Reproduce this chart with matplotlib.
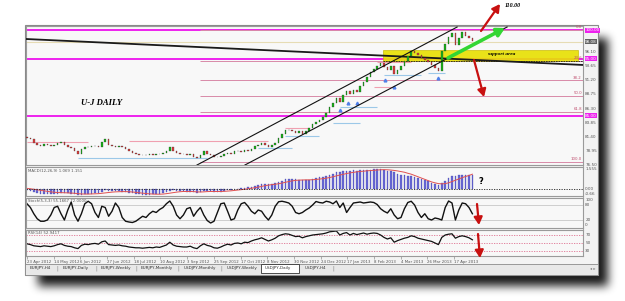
import numpy as np
import matplotlib
matplotlib.use("Agg")
import matplotlib.pyplot as plt
from matplotlib.patches import Rectangle

W, H = 625, 301

# closes, one value per two trading days (23 Apr 2012 -> end Apr 2013)
closes = [81.2, 80.9, 80.3, 80.0, 79.8, 80.1, 79.9, 79.7, 79.9, 80.2,
          80.5, 80.0, 79.6, 79.4, 78.9, 78.3, 79.2, 79.6, 79.5, 79.7,
          79.8, 79.6, 80.4, 80.9, 79.9, 79.8, 79.6, 79.7, 79.5, 79.3,
          78.9, 78.5, 78.3, 78.2, 78.1, 78.2, 78.3, 78.2, 78.4, 78.3,
          78.6, 78.9, 79.5, 78.9, 78.6, 78.4, 78.3, 78.2, 78.4, 77.9,
          77.6, 78.2, 78.8, 78.4, 78.2, 77.9, 77.8, 78.0, 78.3, 78.6,
          78.4, 78.8, 78.9, 78.7, 79.0, 78.8, 79.3, 79.7, 79.9, 80.3,
          80.0, 79.6, 79.9, 80.3, 81.2, 81.9, 82.5, 82.6, 82.4, 82.1,
          82.3, 81.9, 82.4, 82.9, 83.6, 84.0, 84.3, 84.8, 85.6, 86.6,
          87.2, 88.2, 87.5, 88.6, 89.4, 88.9, 89.6, 89.2, 90.3, 91.0,
          91.8, 92.6, 93.2, 93.8, 94.3, 93.5, 93.1, 93.8, 92.4, 93.0,
          93.8, 94.6, 95.4, 96.3, 96.0, 95.6, 95.1, 94.8, 94.4, 93.9,
          93.4, 92.8, 96.4, 97.6, 98.8, 99.5, 97.4, 98.6, 99.6, 99.0,
          98.6, 98.1]
first_open = 81.4

macd_main = [-0.05, -0.15, -0.25, -0.3, -0.35, -0.35, -0.38, -0.4, -0.38, -0.35,
             -0.3, -0.3, -0.32, -0.35, -0.42, -0.5, -0.45, -0.4, -0.38, -0.35,
             -0.32, -0.3, -0.2, -0.1, -0.12, -0.15, -0.16, -0.18, -0.2, -0.22,
             -0.28, -0.33, -0.38, -0.42, -0.45, -0.45, -0.44, -0.42, -0.4, -0.38,
             -0.33, -0.25, -0.12, -0.1, -0.12, -0.15, -0.18, -0.2, -0.2, -0.25,
             -0.3, -0.25, -0.15, -0.12, -0.15, -0.2, -0.22, -0.2, -0.15, -0.1,
             -0.08, -0.02, 0.02, 0.05, 0.1, 0.12, 0.18, 0.25, 0.32, 0.4,
             0.42, 0.4, 0.42, 0.45, 0.55, 0.65, 0.75, 0.8, 0.78, 0.75,
             0.72, 0.7, 0.7, 0.72, 0.78, 0.85, 0.9, 0.95, 1.02, 1.12,
             1.2, 1.3, 1.32, 1.38, 1.42, 1.42, 1.44, 1.42, 1.44, 1.45,
             1.48, 1.5, 1.52, 1.55, 1.55, 1.5, 1.42, 1.38, 1.3, 1.2,
             1.12, 1.05, 1.0, 0.98, 0.95, 0.88, 0.8, 0.7, 0.6, 0.5,
             0.4, 0.3, 0.45, 0.65, 0.85, 1.0, 1.02, 1.08, 1.12, 1.12,
             1.1, 1.07]

macd_signal = [0.05, 0.02, -0.02, -0.06, -0.1, -0.14, -0.18, -0.22, -0.25, -0.27,
               -0.28, -0.29, -0.3, -0.31, -0.33, -0.36, -0.38, -0.39, -0.39, -0.38,
               -0.37, -0.36, -0.33, -0.3, -0.27, -0.24, -0.22, -0.21, -0.2, -0.2,
               -0.21, -0.23, -0.26, -0.29, -0.32, -0.35, -0.37, -0.39, -0.4, -0.4,
               -0.39, -0.36, -0.32, -0.28, -0.24, -0.21, -0.19, -0.19, -0.19, -0.2,
               -0.22, -0.23, -0.22, -0.2, -0.19, -0.19, -0.19, -0.19, -0.18, -0.16,
               -0.14, -0.11, -0.08, -0.05, -0.02, 0.02, 0.06, 0.1, 0.15, 0.2,
               0.26, 0.3, 0.34, 0.37, 0.41, 0.46, 0.52, 0.58, 0.63, 0.67,
               0.69, 0.7, 0.71, 0.71, 0.72, 0.74, 0.77, 0.8, 0.84, 0.89,
               0.95, 1.02, 1.08, 1.14, 1.2, 1.25, 1.29, 1.33, 1.36, 1.38,
               1.41, 1.43, 1.45, 1.47, 1.49, 1.5, 1.49, 1.47, 1.44, 1.4,
               1.35, 1.3, 1.22, 1.15, 1.05, 0.95, 0.85, 0.75, 0.65, 0.55,
               0.48, 0.42, 0.4, 0.42, 0.48, 0.58, 0.68, 0.78, 0.88, 0.97,
               1.05, 1.15]

stoch_main = [85, 70, 45, 25, 15, 15, 20, 40, 70, 75,
              45, 20, 60, 92, 40, 15, 45, 85, 95, 85,
              50, 30, 75, 70, 35, 55, 88, 70, 30, 15,
              12, 10, 15, 25, 35, 30, 45, 55, 50, 62,
              70, 85, 96, 75, 40, 25, 40, 65, 70, 35,
              55, 70, 40, 18, 8, 15, 50, 85, 88, 55,
              20, 25, 60, 85, 90, 75, 55, 45, 60, 55,
              35, 20, 40, 75, 93, 95, 92, 88, 75, 50,
              45, 50, 60, 68, 80, 94, 90, 88, 95, 92,
              85, 96, 70, 88, 50, 70, 88, 90, 92, 88,
              90, 92, 90, 82, 65, 55, 48, 65, 40, 25,
              30, 65, 90, 95, 80, 50, 30, 45, 25, 20,
              28, 25, 20, 70, 96, 88, 20, 60, 88, 85,
              70, 45]

rsi_vals = [48, 46, 43, 42, 41, 43, 42, 41, 43, 46,
            48, 44, 42, 41, 38, 36, 44, 47, 46, 48,
            49, 47, 53, 55, 46, 45, 44, 45, 43, 42,
            40, 39, 38, 38, 37, 38, 39, 38, 40, 39,
            42, 45, 52, 45, 42, 41, 40, 40, 42, 38,
            36, 43, 48, 44, 42, 38, 37, 40, 44, 47,
            45, 49, 50, 48, 52, 51, 55, 58, 60, 63,
            59, 55, 58, 62, 68, 71, 73, 72, 69, 66,
            67, 63, 66, 68, 70, 71, 72, 73, 75, 78,
            79, 80, 70, 74, 76, 70, 74, 71, 73, 75,
            72, 74, 75, 74, 70, 64, 60, 63, 52, 56,
            59, 62, 64, 68, 66, 62, 60, 58, 56, 54,
            50, 46, 64, 70, 72, 73, 62, 66, 68, 66,
            63, 58]

date_labels = ["23 Apr 2012", "14 May 2012", "6 Jun 2012", "27 Jun 2012", "18 Jul 2012",
               "10 Aug 2012", "3 Sep 2012", "25 Sep 2012", "17 Oct 2012", "8 Nov 2012",
               "30 Nov 2012", "24 Dec 2012", "17 Jan 2013", "8 Feb 2013", "4 Mar 2013",
               "26 Mar 2013", "17 Apr 2013"]
tab_names = ["EURJPY,H4", "EURJPY,Daily", "EURJPY,Weekly", "EURJPY,Monthly",
             "USDJPY,Monthly", "USDJPY,Weekly", "USDJPY,Daily", "USDJPY,H4"]

magenta_levels = [100.0, 95.0, 85.0]
fib_pcts = [0.0, 23.6, 38.2, 50.0, 61.8, 100.0]
fib_hi, fib_lo, fib_start = 100.0, 76.96, 51
price_ticks = [76.50, 78.95, 81.40, 83.85, 86.30, 88.75, 91.20, 93.65, 96.10]
bid_price = 97.91
channel_upper = [(50.0, 76.44), (126.5, 100.52)]
channel_lower = [(64.1, 76.44), (141.2, 100.52)]
long_line = [(-0.3, 98.43), (163.5, 93.9)]
support_zone = (104.7, 162.0, 94.59, 96.51)
pink_stubs = [(0, 18, 80.5), (30, 71, 80.6), (76, 83, 82.9), (102, 108, 90.05), (103, 113, 94.4)]
blue_stubs = [(15, 53, 77.7), (68, 78, 79.4), (76, 86, 81.5), (90, 98, 83.8),
              (92, 103, 86.6), (105, 116, 92.1), (118, 123, 92.5)]
fractal_up = [(92, 86.6), (94.4, 87.8), (97, 87.8), (105.3, 91.8), (108, 90.6), (121, 92.1)]

X0, X1 = (26 - 27) / 3.4, (583 - 27) / 3.4
BG = "#f8f8f8"


def box(x0, y0, x1, y1):
    return [x0 / W, 1 - y1 / H, (x1 - x0) / W, (y1 - y0) / H]


def pane(y0, y1, ylim):
    ax = fig.add_axes(box(26, y0, 583, y1), zorder=1)
    ax.set_xlim(X0, X1)
    ax.set_ylim(*ylim)
    ax.set_facecolor(BG)
    ax.set_xticks([])
    ax.set_yticks([])
    for s in ax.spines.values():
        s.set_color("#9a9a9a")
        s.set_linewidth(0.8)
    return ax


def rlabel(ax, v, s, fc=None, tc="#555555"):
    kw = {}
    if fc:
        kw["bbox"] = dict(boxstyle="square,pad=0.12", fc=fc, ec="none")
    ax.text(1.004, v, s, transform=ax.get_yaxis_transform(), fontsize=3.0,
            color=tc, va="center", ha="left", clip_on=False, **kw)


def blur(a, r):
    k = np.ones(2 * r + 1) / (2 * r + 1)
    for _ in range(3):
        a = np.apply_along_axis(lambda m: np.convolve(m, k, mode="same"), 0, a)
        a = np.apply_along_axis(lambda m: np.convolve(m, k, mode="same"), 1, a)
    return a


fig = plt.figure(figsize=(W / 100, H / 100), dpi=100)
fig.patch.set_facecolor("white")

# background: drop shadow + window frame
bg = fig.add_axes([0, 0, 1, 1], zorder=0)
bg.set_xlim(0, W)
bg.set_ylim(H, 0)
bg.axis("off")
mask = np.zeros((H, W))
mask[38:286, 38:608] = 1.0
sh = blur(mask, 4)
rgba = np.zeros((H, W, 4))
rgba[..., 3] = np.clip(sh * 0.9, 0, 1)
bg.imshow(rgba, extent=(0, W, H, 0), aspect="auto", interpolation="bilinear")
bg.add_patch(Rectangle((25, 25), 573, 250, fc="#f3f3f3", ec="#8a8a8a", lw=0.8))
bg.add_patch(Rectangle((25, 264), 573, 11, fc="#e8e8e8", ec="#8a8a8a", lw=0.6))
bg.add_patch(Rectangle((261, 264), 38, 9, fc="white", ec="#333333", lw=0.6))
tab_x = [30, 63, 101, 141, 184, 227, 265, 305]
for name, tx in zip(tab_names, tab_x):
    bg.text(tx, 268.5, name, fontsize=3.0, color="#333333", va="center", ha="left")
for sx in [57, 96, 136, 178, 221, 333]:
    bg.text(sx, 268.5, "|", fontsize=3.5, color="#777777", va="center", ha="center")
bg.text(593, 268.5, "\u25c2 \u25b8", fontsize=3.0, color="#777777", va="center", ha="center")

# ---- main price pane
ax = pane(26, 165, (100 - 135 / 5.73, 100 + 4 / 5.73))
idx = np.arange(len(closes))
opens = [first_open] + closes[:-1]
up = [c >= o for o, c in zip(opens, closes)]
bottoms = [min(o, c) for o, c in zip(opens, closes)]
heights = [max(abs(c - o), 0.12) for o, c in zip(opens, closes)]
cols = ["#16b316" if u else "#e03c3c" for u in up]
ax.bar(idx, heights, bottom=bottoms, width=0.5, color=cols, edgecolor="#303030",
       linewidth=0.2, zorder=4)

ax.axhline(bid_price, color="#e6dcb4", lw=0.8, zorder=1)
for lv in magenta_levels:
    ax.axhline(lv, color="#ee22ee", lw=1.4, zorder=2)
for p in fib_pcts:
    fv = fib_hi - p / 100 * (fib_hi - fib_lo)
    ax.hlines(fv, fib_start, X1, color="#d98aa8", lw=0.7, zorder=2)
    ax.text(X1 - 0.3, fv + 0.15, f"{p:.1f}", fontsize=2.8, color="#c05070",
            ha="right", va="bottom", zorder=6)
for a, b, v in pink_stubs:
    ax.hlines(v, a, b, color="#f0a0b0", lw=0.8, zorder=2)
for a, b, v in blue_stubs:
    ax.hlines(v, a, b, color="#9cc8e8", lw=0.8, zorder=2)
fx, fy = zip(*fractal_up)
ax.plot(fx, np.array(fy) - 0.5, ls="none", marker="^", ms=2.0, color="#4f7fe8", zorder=5)

zx0, zx1, zy0, zy1 = support_zone
ax.add_patch(Rectangle((zx0, zy0), zx1 - zx0, zy1 - zy0, fc="#e8e000", ec="#c8b800",
                       lw=0.5, alpha=0.9, zorder=3))
ax.hlines(zy0, zx0, X1, color="#222222", lw=0.6, ls=(0, (2, 1)), zorder=3)

(lx0, ly0), (lx1, ly1) = long_line
ax.plot([lx0, lx1], [ly0, ly1], color="#1a1a1a", lw=1.3, zorder=3)
for ch in (channel_upper, channel_lower):
    (cx0, cy0), (cx1, cy1) = ch
    ax.plot([cx0, cx1], [cy0, cy1], color="#111111", lw=0.8, zorder=5)

for t in price_ticks:
    rlabel(ax, t, f"{t:.2f}")
for lv in magenta_levels:
    rlabel(ax, lv, f"{lv:.2f}", fc="#ee22ee", tc="white")
rlabel(ax, bid_price, "98.08", fc="#606060", tc="white")

# ---- MACD pane
axm = pane(167, 196, (-0.54, 1.705))
axm.bar(idx, macd_main, width=0.45, color="#6a6ad8", edgecolor="#3a3aa0", linewidth=0.2)
axm.plot(idx, macd_signal, color="#e05050", lw=0.7)
axm.axhline(0, color="#222222", lw=0.6, ls=(0, (1.5, 1.5)))
axm.text(0.004, 0.93, "MACD(12,26,9) 1.069 1.151", transform=axm.transAxes,
         fontsize=2.8, color="#555555", va="top")
rlabel(axm, 1.555, "1.555")
rlabel(axm, 0.0, "0.00")
rlabel(axm, -0.35, "-0.66")

# ---- Stochastic pane
axs = pane(198, 228, (-12, 108))
axs.axhline(80, color="#c8c8c8", lw=0.6)
axs.axhline(20, color="#c8c8c8", lw=0.6)
axs.plot(idx, stoch_main, color="#111111", lw=1.0)
axs.text(0.004, 0.95, "Stoch(5,3,3) 55.1667 72.0000", transform=axs.transAxes,
         fontsize=2.8, color="#555555", va="top")
for v in [100, 80, 20, 0]:
    rlabel(axs, v, str(v))

# ---- RSI pane
axr = pane(230, 256, (17.5, 82.5))
for lv in [70, 50, 30]:
    axr.axhline(lv, color="#e07090", lw=0.6, ls=(0, (1.5, 1.5)))
axr.plot(idx, rsi_vals, color="#111111", lw=0.9)
axr.text(0.004, 0.97, "RSI(14) 52.9417", transform=axr.transAxes,
         fontsize=2.8, color="#555555", va="top")
for v in [70, 50, 30]:
    rlabel(axr, v, str(v))
axr.set_xticks([k * 7.85 for k in range(len(date_labels))])
axr.set_xticklabels(date_labels, fontsize=2.8, color="#555555", ha="left")
axr.tick_params(axis="x", length=2, width=0.4, color="#777777", pad=1.0)

# ---- overlay annotations in pixel coords
ov = fig.add_axes([0, 0, 1, 1], zorder=3)
ov.set_xlim(0, W)
ov.set_ylim(H, 0)
ov.axis("off")
ov.patch.set_alpha(0)

ov.vlines(583, 26, 256, color="#9a9a9a", lw=0.6)
ov.text(102, 103, "U-J DAILY", family="Liberation Serif", fontsize=6.2,
        weight="bold", style="italic", ha="center", va="center")
ov.text(501, 54.5, "support area", family="Liberation Serif", fontsize=3.9,
        weight="bold", style="italic", ha="center", va="center")
ov.text(505, 5.5, "110.00", family="Liberation Serif", fontsize=4.3,
        weight="bold", style="italic", ha="left", va="center")
ov.text(481, 181, "?", fontsize=6, weight="bold", ha="center", va="center")

red = "#c81010"
arrows = [((481, 31), (500, 4), red, 1.6),
          ((474, 60), (484, 97), red, 1.6),
          ((477, 204), (479, 225), red, 1.6),
          ((478, 234), (480, 258), red, 1.6),
          ((448, 58), (505, 28), "#33d633", 2.6)]
for (sx, sy), (ex, ey), c, lw in arrows:
    ov.annotate("", xy=(ex, ey), xytext=(sx, sy),
                arrowprops=dict(arrowstyle="-|>,head_length=0.45,head_width=0.25",
                                color=c, lw=lw, shrinkA=0, shrinkB=0))

fig.savefig("out.png", dpi=100)
